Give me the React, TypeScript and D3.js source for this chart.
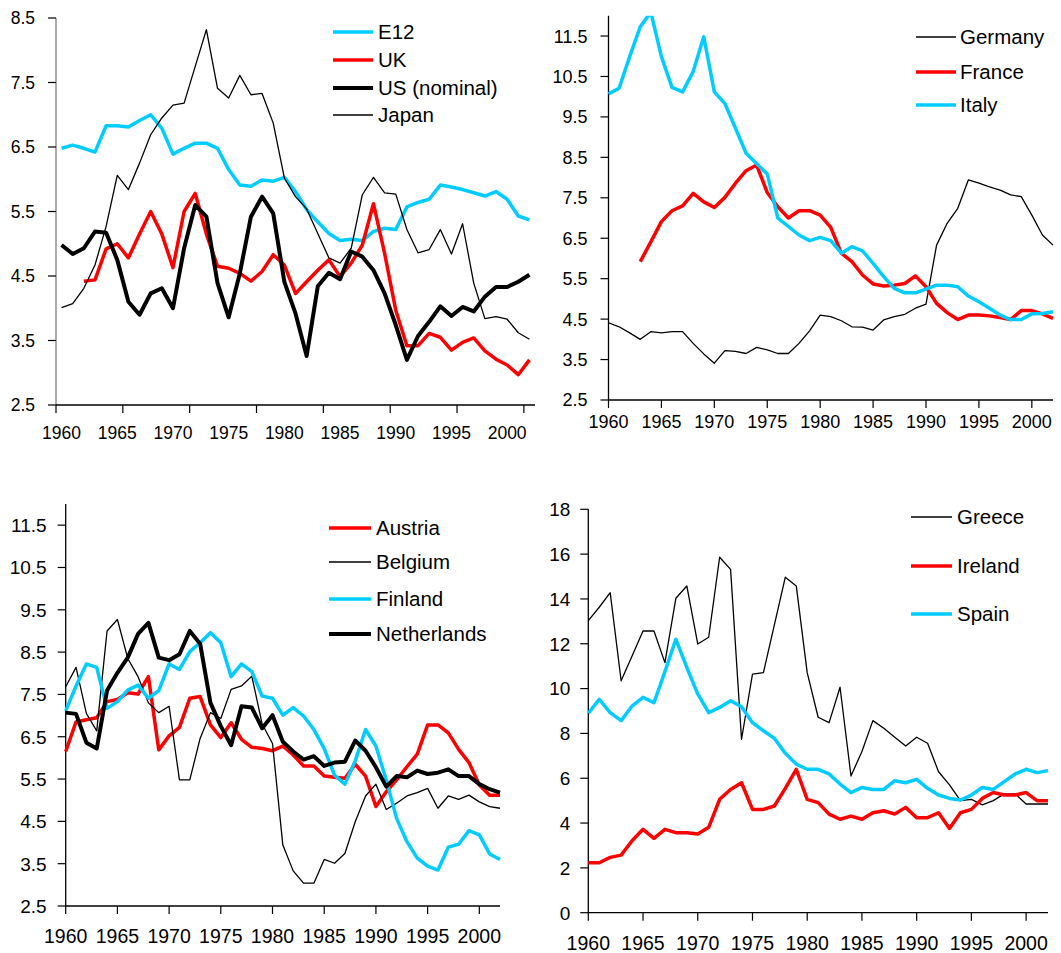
import * as d3 from "d3";

// years on the category axis
const years = d3.range(1960, 2003);

// panel 1
const e12 = [6.48, 6.53, 6.48, 6.42, 6.83, 6.83, 6.81, 6.91, 7.0, 6.79, 6.39, 6.48, 6.56, 6.56, 6.48, 6.15, 5.91, 5.89, 5.99, 5.97, 6.03, 5.81, 5.53, 5.34, 5.16, 5.05, 5.07, 5.05, 5.19, 5.24, 5.22, 5.57, 5.64, 5.69, 5.91, 5.88, 5.84, 5.79, 5.74, 5.81, 5.69, 5.43, 5.37];
const uk = [null, null, 4.42, 4.44, 4.92, 5.0, 4.78, 5.15, 5.5, 5.15, 4.63, 5.5, 5.78, 5.15, 4.65, 4.62, 4.54, 4.42, 4.57, 4.83, 4.67, 4.23, 4.41, 4.59, 4.75, 4.49, 4.7, 4.98, 5.62, 4.85, 3.97, 3.42, 3.42, 3.61, 3.55, 3.35, 3.47, 3.54, 3.34, 3.21, 3.12, 2.97, 3.2];
const us = [4.98, 4.84, 4.93, 5.19, 5.17, 4.75, 4.1, 3.9, 4.23, 4.31, 4.0, 4.93, 5.6, 5.42, 4.39, 3.86, 4.54, 5.42, 5.73, 5.47, 4.41, 3.92, 3.26, 4.34, 4.55, 4.45, 4.88, 4.8, 4.59, 4.23, 3.74, 3.2, 3.57, 3.79, 4.03, 3.88, 4.02, 3.95, 4.18, 4.33, 4.33, 4.41, 4.52];
const japan = [4.01, 4.07, 4.31, 4.67, 5.27, 6.06, 5.84, 6.25, 6.69, 6.95, 7.15, 7.18, 7.75, 8.32, 7.41, 7.26, 7.61, 7.31, 7.33, 6.87, 6.02, 5.73, 5.54, 5.16, 4.78, 4.7, 4.93, 5.76, 6.03, 5.79, 5.77, 5.22, 4.86, 4.91, 5.22, 4.84, 5.31, 4.39, 3.84, 3.87, 3.83, 3.62, 3.52];

// panel 2
const germany = [4.41, 4.31, 4.16, 4.0, 4.19, 4.16, 4.19, 4.19, 3.9, 3.64, 3.41, 3.72, 3.7, 3.65, 3.8, 3.74, 3.65, 3.65, 3.9, 4.21, 4.6, 4.56, 4.46, 4.31, 4.3, 4.23, 4.48, 4.56, 4.62, 4.77, 4.87, 6.33, 6.87, 7.24, 7.94, 7.86, 7.77, 7.69, 7.57, 7.53, 7.07, 6.58, 6.33];
const france = [null, null, null, 5.92, 6.41, 6.91, 7.18, 7.3, 7.61, 7.4, 7.26, 7.51, 7.86, 8.17, 8.31, 7.63, 7.28, 7.0, 7.18, 7.18, 7.07, 6.77, 6.13, 5.92, 5.59, 5.37, 5.32, 5.34, 5.38, 5.57, 5.3, 4.89, 4.66, 4.49, 4.6, 4.6, 4.58, 4.54, 4.49, 4.71, 4.71, 4.63, 4.52];
const italy = [10.07, 10.21, 10.99, 11.73, 12.09, 10.99, 10.23, 10.12, 10.62, 11.48, 10.12, 9.83, 9.22, 8.6, 8.34, 8.09, 7.0, 6.79, 6.58, 6.44, 6.52, 6.44, 6.13, 6.29, 6.19, 5.88, 5.55, 5.26, 5.15, 5.15, 5.24, 5.34, 5.34, 5.3, 5.07, 4.93, 4.77, 4.6, 4.49, 4.49, 4.63, 4.64, 4.68];

// panel 3
const austria = [6.15, 6.85, 6.9, 6.95, 7.33, 7.38, 7.54, 7.51, 7.92, 6.19, 6.52, 6.72, 7.41, 7.45, 6.78, 6.48, 6.83, 6.44, 6.25, 6.22, 6.17, 6.28, 6.07, 5.81, 5.81, 5.57, 5.54, 5.52, 5.85, 5.57, 4.85, 5.2, 5.48, 5.79, 6.09, 6.78, 6.78, 6.59, 6.2, 5.89, 5.36, 5.12, 5.12];
const belgium = [7.68, 8.14, 7.05, 6.64, 9.0, 9.27, 8.35, 7.92, 7.3, 7.07, 7.22, 5.48, 5.48, 6.46, 7.07, 6.93, 7.62, 7.7, 7.93, 6.8, 6.34, 3.94, 3.33, 3.04, 3.04, 3.6, 3.51, 3.74, 4.49, 5.1, 5.38, 4.78, 4.93, 5.1, 5.18, 5.28, 4.81, 5.1, 5.02, 5.12, 4.96, 4.85, 4.81];
const finland = [7.11, 7.7, 8.22, 8.14, 7.17, 7.33, 7.6, 7.72, 7.41, 7.59, 8.22, 8.09, 8.51, 8.72, 8.96, 8.72, 7.92, 8.22, 8.04, 7.46, 7.41, 7.01, 7.19, 6.99, 6.67, 6.22, 5.59, 5.38, 5.93, 6.67, 6.28, 5.48, 4.57, 4.02, 3.63, 3.44, 3.35, 3.89, 3.96, 4.28, 4.18, 3.73, 3.6];
const netherlands = [7.07, 7.04, 6.36, 6.22, 7.59, 8.01, 8.37, 8.93, 9.19, 8.37, 8.31, 8.45, 9.0, 8.7, 7.3, 6.75, 6.3, 7.22, 7.19, 6.7, 7.01, 6.38, 6.15, 5.96, 6.04, 5.81, 5.89, 5.91, 6.41, 6.17, 5.78, 5.32, 5.57, 5.54, 5.7, 5.62, 5.65, 5.73, 5.57, 5.57, 5.38, 5.26, 5.18];

// panel 4
const greece = [13.03, 13.63, 14.28, 10.35, 11.45, 12.57, 12.57, 11.16, 14.03, 14.58, 11.99, 12.29, 15.86, 15.32, 7.74, 10.65, 10.71, 12.84, 14.97, 14.58, 10.71, 8.72, 8.48, 10.06, 6.1, 7.19, 8.57, 8.23, 7.83, 7.44, 7.83, 7.56, 6.29, 5.7, 5.0, 5.06, 4.81, 5.0, 5.3, 5.3, 4.85, 4.85, 4.85];
const ireland = [2.23, 2.23, 2.47, 2.57, 3.21, 3.72, 3.32, 3.72, 3.57, 3.57, 3.51, 3.81, 5.06, 5.5, 5.8, 4.61, 4.61, 4.76, 5.55, 6.4, 5.06, 4.91, 4.4, 4.17, 4.31, 4.17, 4.46, 4.55, 4.4, 4.7, 4.24, 4.24, 4.46, 3.76, 4.46, 4.61, 5.1, 5.36, 5.25, 5.25, 5.36, 5.0, 5.0];
const spain = [8.9, 9.52, 8.93, 8.57, 9.22, 9.61, 9.37, 10.76, 12.2, 10.95, 9.76, 8.93, 9.16, 9.46, 9.19, 8.48, 8.12, 7.78, 7.11, 6.63, 6.4, 6.4, 6.19, 5.74, 5.36, 5.59, 5.5, 5.5, 5.89, 5.8, 5.95, 5.55, 5.25, 5.1, 5.03, 5.25, 5.59, 5.5, 5.85, 6.19, 6.4, 6.25, 6.34];

const rateTicks = [2.5, 3.5, 4.5, 5.5, 6.5, 7.5, 8.5, 9.5, 10.5, 11.5];
const greeceTicks = [0, 2, 4, 6, 8, 10, 12, 14, 16, 18];
const labelYears = [1960, 1965, 1970, 1975, 1980, 1985, 1990, 1995, 2000];

const CYAN = "#00ccff";
const RED = "#ff0000";
const BLACK = "#000000";
const FONT = "'Liberation Sans', Arial, sans-serif";

type Series = { name: string; values: (number | null)[]; color: string; width: number };

type PanelProps = {
  id: string;
  band: boolean;
  x0: number;
  x1: number;
  yBottom: number;
  yTop: number;
  yDomain: [number, number];
  yTicks: number[];
  yTickFmt: (v: number) => string;
  tickYears: number[];
  ySize: number;
  xSize: number;
  labelGap: number;
  xLabelY: number;
  yAxisColor: string;
  series: Series[];
  legend: { x1: number; x2: number; tx: number; rows: number[] };
};

function Panel(p: PanelProps) {
  const y = d3.scaleLinear().domain(p.yDomain).range([p.yBottom, p.yTop]);
  const band = d3.scaleBand<number>().domain(years).range([p.x0, p.x1]).padding(0);
  const point = d3.scalePoint<number>().domain(years).range([p.x0, p.x1]);
  const xc = (yr: number) => (p.band ? (band(yr) as number) + band.bandwidth() / 2 : (point(yr) as number));
  const xTick = (yr: number) => (p.band ? (band(yr) as number) : (point(yr) as number));

  const line = d3
    .line<number | null>()
    .defined((v) => v != null)
    .x((_, i) => xc(years[i]))
    .y((v) => y(v as number));

  const yMaxPx = y(p.yDomain[1]);

  return (
    <g>
      <defs>
        <clipPath id={p.id}>
          <rect x={p.x0 - 2} y={yMaxPx} width={p.x1 - p.x0 + 4} height={p.yBottom - yMaxPx + 2} />
        </clipPath>
      </defs>
      {/* axes */}
      <line x1={p.x0} x2={p.x0} y1={yMaxPx} y2={p.yBottom} stroke={p.yAxisColor} strokeWidth={1.3} />
      <line x1={p.x0} x2={p.x1} y1={p.yBottom} y2={p.yBottom} stroke="#000" strokeWidth={1.3} />
      {p.yTicks.map((t) => (
        <g key={"y" + t}>
          <line x1={p.x0 - 8} x2={p.x0} y1={y(t)} y2={y(t)} stroke="#000" strokeWidth={1.2} />
          <text
            x={p.x0 - p.labelGap}
            y={y(t)}
            dy="0.36em"
            textAnchor="end"
            fontSize={p.ySize}
            fontFamily={FONT}
            fill="#000"
          >
            {p.yTickFmt(t)}
          </text>
        </g>
      ))}
      {p.tickYears.map((yr) => (
        <line key={"xt" + yr} x1={xTick(yr)} x2={xTick(yr)} y1={p.yBottom} y2={p.yBottom + 8} stroke="#000" strokeWidth={1.2} />
      ))}
      {labelYears.map((yr) => (
        <text key={"xl" + yr} x={xc(yr)} y={p.xLabelY} textAnchor="middle" fontSize={p.xSize} fontFamily={FONT} fill="#000">
          {yr}
        </text>
      ))}
      {/* series */}
      <g clipPath={`url(#${p.id})`}>
        {p.series.map((s) => (
          <path
            key={s.name}
            d={line(s.values) || ""}
            fill="none"
            stroke={s.color}
            strokeWidth={s.width}
            strokeLinejoin="round"
          />
        ))}
      </g>
      {/* legend */}
      {p.series.map((s, i) => (
        <g key={"lg" + s.name}>
          <line x1={p.legend.x1} x2={p.legend.x2} y1={p.legend.rows[i]} y2={p.legend.rows[i]} stroke={s.color} strokeWidth={s.width} />
          <text x={p.legend.tx} y={p.legend.rows[i]} dy="0.36em" fontSize={20.5} fontFamily={FONT} fill="#000">
            {s.name}
          </text>
        </g>
      ))}
    </g>
  );
}

const fmt1 = d3.format(".1f");
const fmt0 = d3.format("d");

export default function App() {
  return (
    <svg width={1061} height={953} style={{ position: "absolute", left: 0, top: 0, background: "#fff" }}>
      <Panel
        id="p1"
        band={true}
        x0={56}
        x1={535}
        yBottom={405}
        yTop={18}
        yDomain={[2.5, 8.5]}
        yTicks={rateTicks.filter((t) => t <= 8.5)}
        yTickFmt={fmt1}
        tickYears={[1960, 1966, 1972, 1978, 1984, 1990, 1996, 2002]}
        ySize={17.5}
        xSize={17.5}
        labelGap={21}
        xLabelY={439}
        yAxisColor="#808080"
        series={[
          { name: "E12", values: e12, color: CYAN, width: 3.5 },
          { name: "UK", values: uk, color: RED, width: 3.5 },
          { name: "US (nominal)", values: us, color: BLACK, width: 4 },
          { name: "Japan", values: japan, color: BLACK, width: 1.3 },
        ]}
        legend={{ x1: 333, x2: 373, tx: 378, rows: [32, 60, 88, 115] }}
      />
      <Panel
        id="p2"
        band={false}
        x0={608.5}
        x1={1053}
        yBottom={400}
        yTop={15.8}
        yDomain={[2.5, 12]}
        yTicks={rateTicks}
        yTickFmt={fmt1}
        tickYears={labelYears}
        ySize={18}
        xSize={18}
        labelGap={21}
        xLabelY={428}
        yAxisColor="#000"
        series={[
          { name: "Germany", values: germany, color: BLACK, width: 1.3 },
          { name: "France", values: france, color: RED, width: 3.5 },
          { name: "Italy", values: italy, color: CYAN, width: 3.5 },
        ]}
        legend={{ x1: 916, x2: 956, tx: 960, rows: [37, 72, 105] }}
      />
      <Panel
        id="p3"
        band={false}
        x0={65.7}
        x1={500}
        yBottom={906}
        yTop={504}
        yDomain={[2.5, 12]}
        yTicks={rateTicks}
        yTickFmt={fmt1}
        tickYears={labelYears}
        ySize={19}
        xSize={19.5}
        labelGap={19}
        xLabelY={943}
        yAxisColor="#000"
        series={[
          { name: "Austria", values: austria, color: RED, width: 3.5 },
          { name: "Belgium", values: belgium, color: BLACK, width: 1.3 },
          { name: "Finland", values: finland, color: CYAN, width: 3.5 },
          { name: "Netherlands", values: netherlands, color: BLACK, width: 4 },
        ]}
        legend={{ x1: 329, x2: 371, tx: 376, rows: [528, 562, 599, 634] }}
      />
      <Panel
        id="p4"
        band={false}
        x0={588.3}
        x1={1048}
        yBottom={912.7}
        yTop={509.3}
        yDomain={[0, 18]}
        yTicks={greeceTicks}
        yTickFmt={fmt0}
        tickYears={labelYears}
        ySize={19}
        xSize={19.5}
        labelGap={18}
        xLabelY={950}
        yAxisColor="#000"
        series={[
          { name: "Greece", values: greece, color: BLACK, width: 1.3 },
          { name: "Ireland", values: ireland, color: RED, width: 3.5 },
          { name: "Spain", values: spain, color: CYAN, width: 3.5 },
        ]}
        legend={{ x1: 911, x2: 952, tx: 957, rows: [517, 566, 614] }}
      />
    </svg>
  );
}
